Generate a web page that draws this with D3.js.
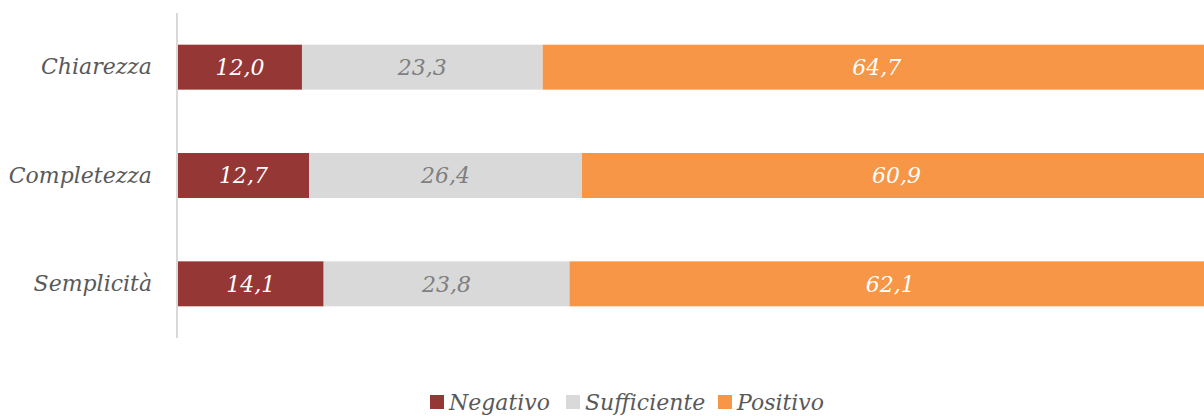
<!DOCTYPE html>
<html><head><meta charset="utf-8">
<script src="https://cdn.jsdelivr.net/npm/d3@7"></script>
<style>body{margin:0;background:#fff}svg{display:block}</style>
</head><body><svg id="c" width="1204" height="416"></svg>
<script>
const categories = ["Chiarezza", "Completezza", "Semplicità"];
const seriesNames = ["Negativo", "Sufficiente", "Positivo"];
const negativo = [12.0, 12.7, 14.1];
const sufficiente = [23.3, 26.4, 23.8];
const positivo = [64.7, 60.9, 62.1];
const colors = ["#953735", "#d9d9d9", "#f79646"];
const textColors = ["#ffffff", "#7f7f7f", "#ffffff"];

const font = "'DejaVu Serif', serif";
const fs = 22;
const svg = d3.select("#c");
const rows = categories.map((c, i) => ({cat: c, Negativo: negativo[i], Sufficiente: sufficiente[i], Positivo: positivo[i]}));
const stack = d3.stack().keys(seriesNames)(rows);

const x = d3.scaleLinear().domain([0, 100]).range([178, 1211]);
const y = d3.scaleBand().domain(categories).range([13, 338]).paddingInner(0.585).paddingOuter(0.2925);

const fmt = v => v.toFixed(1).replace(".", ",");

stack.forEach((s, k) => {
  const g = svg.append("g");
  g.selectAll("rect").data(s).enter().append("rect")
    .attr("x", d => x(d[0])).attr("width", d => x(d[1]) - x(d[0]))
    .attr("y", d => y(d.data.cat)).attr("height", y.bandwidth())
    .attr("fill", colors[k]);
  g.selectAll("text").data(s).enter().append("text")
    .attr("x", d => (x(d[0]) + x(d[1])) / 2)
    .attr("y", d => y(d.data.cat) + y.bandwidth() / 2)
    .attr("dy", "0.35em").attr("text-anchor", "middle")
    .attr("font-family", font).attr("font-style", "italic").attr("font-size", fs)
    .attr("fill", textColors[k])
    .text(d => fmt(d[1] - d[0]));
});

// axis
const yAxis = d3.axisLeft(y).tickSize(0).tickPadding(25);
const ag = svg.append("g").attr("transform", "translate(177,0)").call(yAxis);
ag.select(".domain").attr("stroke", "#d9d9d9").attr("stroke-width", 2).attr("d", "M0,13V338");
ag.selectAll("text").attr("font-family", font).attr("font-style", "italic").attr("font-size", fs).attr("fill", "#595959");

// legend
const legendX = [430, 566, 718];
const lg = svg.append("g");
seriesNames.forEach((n, i) => {
  lg.append("rect").attr("x", legendX[i]).attr("y", 395).attr("width", 14).attr("height", 14).attr("fill", colors[i]);
  lg.append("text").attr("x", legendX[i] + 19).attr("y", 410)
    .attr("font-family", font).attr("font-style", "italic").attr("font-size", fs).attr("fill", "#595959").text(n);
});
</script></body></html>
